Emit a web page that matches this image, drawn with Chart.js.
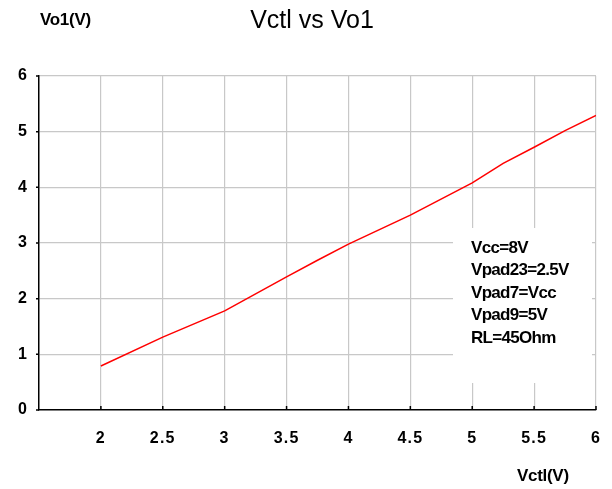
<!DOCTYPE html>
<html>
<head>
<meta charset="utf-8">
<script src="https://cdn.jsdelivr.net/npm/chart.js@4"></script>
<style>
html,body{margin:0;padding:0;background:#fff;}
#wrap{width:612px;height:489px;position:relative;}
</style>
</head>
<body>
<div id="wrap"><canvas id="c" width="612" height="489"></canvas></div>
<script>
const vctl = [2, 2.5, 3, 3.5, 3.75, 4, 4.5, 5, 5.25, 5.5, 5.75, 6];
const vo1  = [0.79, 1.31, 1.78, 2.39, 2.69, 2.98, 3.50, 4.08, 4.43, 4.72, 5.02, 5.29];
const xTicks = [2, 2.5, 3, 3.5, 4, 4.5, 5, 5.5, 6];
const yTicks = [0, 1, 2, 3, 4, 5, 6];
const titleText = 'Vctl vs Vo1';
const yTitle = 'Vo1(V)';
const xTitle = 'Vctl(V)';
const noteLines = ['Vcc=8V', 'Vpad23=2.5V', 'Vpad7=Vcc', 'Vpad9=5V', 'RL=45Ohm'];

const FONT = '"Liberation Sans", Arial, Helvetica, sans-serif';

const decor = {
  id: 'decor',
  beforeDraw(chart) {
    chart.ctx.letterSpacing = '1.2px';
  },
  afterDraw(chart) {
    const ctx = chart.ctx;
    const xs = chart.scales.x, ys = chart.scales.y;
    const area = chart.chartArea;
    ctx.save();
    ctx.letterSpacing = '0px';
    ctx.strokeStyle = '#000';
    ctx.lineWidth = 1.5;
    ctx.beginPath();
    xTicks.forEach(v => {
      const px = xs.getPixelForValue(v);
      ctx.moveTo(px, area.bottom);
      ctx.lineTo(px, area.bottom - 4);
    });
    yTicks.forEach(v => {
      const py = ys.getPixelForValue(v);
      ctx.moveTo(area.left, py);
      ctx.lineTo(area.left - 3, py);
    });
    ctx.stroke();
    ctx.fillStyle = '#fff';
    ctx.fillRect(453, 228, 139, 155);
    ctx.fillStyle = '#000';
    ctx.font = 'bold 17px ' + FONT;
    ctx.letterSpacing = '-0.7px';
    ctx.textAlign = 'left';
    ctx.textBaseline = 'middle';
    noteLines.forEach((t, i) => ctx.fillText(t, 471, 248 + i * 22.6));
    ctx.letterSpacing = '0px';
    ctx.font = '25px ' + FONT;
    ctx.textAlign = 'center';
    ctx.fillText(titleText, 312, 21);
    ctx.font = 'bold 17px ' + FONT;
    ctx.letterSpacing = '-0.3px';
    ctx.textAlign = 'left';
    ctx.fillText(yTitle, 40, 20);
    ctx.fillText(xTitle, 517, 476);
    ctx.restore();
    ctx.letterSpacing = '0px';
  }
};

new Chart(document.getElementById('c'), {
  type: 'line',
  data: {
    datasets: [{
      data: vctl.map((x, i) => ({x: x, y: vo1[i]})),
      borderColor: '#ff0000',
      borderWidth: 1.5,
      pointRadius: 0,
      fill: false,
      tension: 0
    }]
  },
  options: {
    responsive: false,
    animation: false,
    devicePixelRatio: 1,
    layout: {padding: {top: 76, right: 16, left: 0, bottom: 0}},
    plugins: {legend: {display: false}, title: {display: false}, tooltip: {enabled: false}},
    scales: {
      x: {
        type: 'linear',
        min: 1.5, max: 6,
        afterFit(s) { s.height = 79; s.paddingLeft = 0; s.paddingRight = 0; },
        afterBuildTicks(s) { s.ticks = [1.5].concat(xTicks).map(v => ({value: v})); },
        ticks: {
          color: '#000',
          font: {family: FONT, size: 16, weight: 'bold'},
          padding: 19,
          maxRotation: 0,
          autoSkip: false,
          callback: v => (v === 1.5 ? '' : String(v))
        },
        grid: {
          drawTicks: false,
          color: c => (c.tick && c.tick.value === 1.5 ? 'rgba(0,0,0,0)' : '#c8c8c8'),
          lineWidth: 1.2
        },
        border: {display: true, color: '#000', width: 1.5}
      },
      y: {
        type: 'linear',
        min: 0, max: 6,
        afterFit(s) { s.width = 39; s.paddingTop = 0; s.paddingBottom = 0; },
        afterBuildTicks(s) { s.ticks = yTicks.map(v => ({value: v})); },
        ticks: {
          color: '#000',
          font: {family: FONT, size: 16, weight: 'bold'},
          padding: 11,
          autoSkip: false
        },
        grid: {
          drawTicks: false,
          color: c => (c.tick && c.tick.value === 0 ? 'rgba(0,0,0,0)' : '#c8c8c8'),
          lineWidth: 1.2
        },
        border: {display: true, color: '#000', width: 1.5}
      }
    }
  },
  plugins: [decor]
});
</script>
</body>
</html>
